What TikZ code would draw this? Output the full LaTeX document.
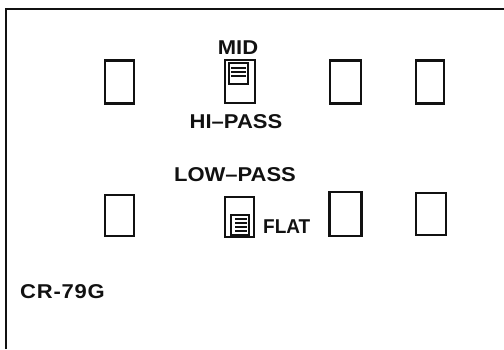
\documentclass[tikz,border=0pt]{standalone}
\usepackage{fontspec}
\setmainfont{Liberation Sans}[FakeStretch=1.1]
\usepackage{tikz}
\definecolor{PanelInk}{HTML}{111111}

\begin{document}
\begin{tikzpicture}[x=1pt,y=-1pt,
    switchbox/.style={draw=PanelInk,line width=2.2pt,minimum width=29pt,minimum height=43pt,inner sep=0pt},
    panellabel/.style={text=PanelInk,font=\fontsize{20}{22}\selectfont\bfseries,inner sep=0pt},
    lever/.style={draw=PanelInk,line width=1.9pt,fill=white}]
  \useasboundingbox (0,0) rectangle (504,349);
  % panel edge
  \draw[PanelInk,line width=1.5pt] (6,349) -- (6,9) -- (504,9);
  % upper row of switches
  \node[switchbox] (upA) at (119.5,82) {};
  \node[switchbox,minimum width=30pt] (upMid) at (240,81.5) {};
  \node[switchbox,minimum width=31pt] (upC) at (345.5,82) {};
  \node[switchbox,minimum width=28pt] (upD) at (430,82) {};
  % lower row of switches
  \node[switchbox,minimum height=41pt] (lowA) at (119.5,215.5) {};
  \node[switchbox,minimum height=40pt] (lowFlat) at (239.5,217) {};
  \node[switchbox,minimum width=32pt,minimum height=44pt] (lowC) at (345.5,214) {};
  \node[switchbox,minimum width=30pt,minimum height=42pt] (lowD) at (431,214) {};
  % levers
  \draw[lever] (229,63) rectangle (248,84);
  \foreach \y in {68,72,76} {
    \draw[PanelInk,line width=1.2pt] (231,\y) -- (246,\y);
  }
  \draw[lever] (231,215) rectangle (249,235);
  \foreach \y in {219,223,227,231} {
    \draw[PanelInk,line width=1.2pt] (235,\y) -- (247,\y);
  }
  % labels
  \node[panellabel] (midLbl) at (238,48) {MID};
  \node[panellabel] (hiLbl) at (236,121.5) {HI--PASS};
  \node[panellabel] (lowLbl) at (235,175) {LOW--PASS};
  \node[panellabel,anchor=west] (flatLbl) at (263,227) {\addfontfeature{FakeStretch=0.95}FLAT};
  \node[panellabel,anchor=west] (modelLbl) at (20,291.5) {\addfontfeature{LetterSpace=4}CR-79G};
\end{tikzpicture}
\end{document}
